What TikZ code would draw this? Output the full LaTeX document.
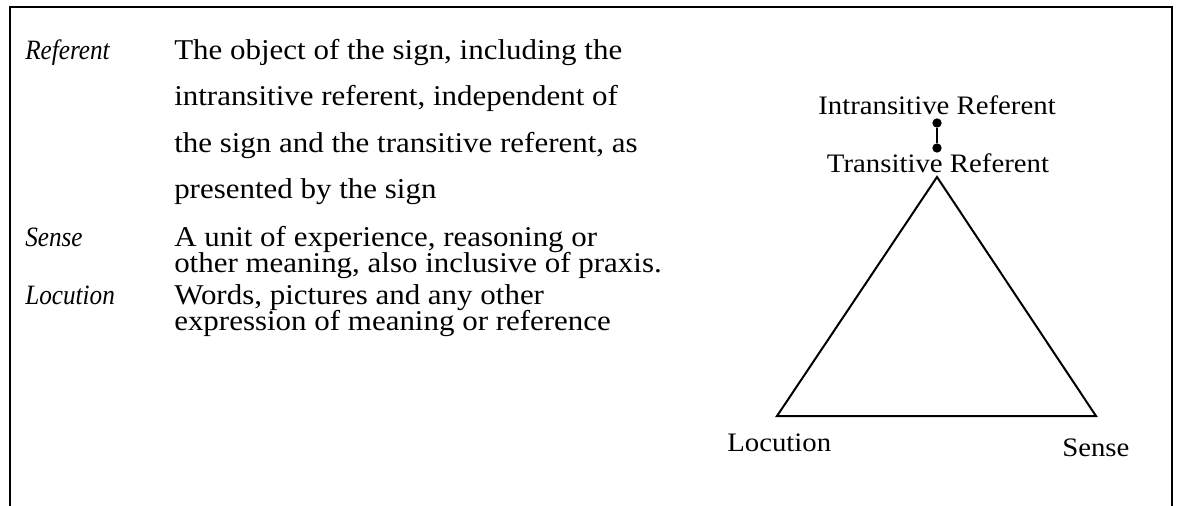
\documentclass[tikz,border=0pt]{standalone}
\usepackage{fontspec}
\setmainfont{Liberation Serif}[FakeStretch=1.08]
% condensed italic for the glossary terms
\newfontfamily\termfont{Liberation Serif}[FakeStretch=0.9]
\begin{document}
\begin{tikzpicture}[x=0.75pt,y=-0.75pt,
  body/.style={anchor=base west, inner sep=0pt, font=\fontsize{21.5}{25}\selectfont},
  term/.style={anchor=base west, inner sep=0pt, font=\termfont\fontsize{21}{24}\selectfont\itshape},
  vlabel/.style={inner sep=0pt, font=\fontsize{20}{24}\selectfont},
  side/.style={line width=1.5pt, line join=miter},
  frame/.style={line width=1.8pt},
  dot/.style={circle, fill=black, inner sep=0pt, minimum size=7pt}]
\useasboundingbox (0,0) rectangle (1180,506);

% open frame: top edge and the two sides
\draw[frame] (10,506) -- (10,7) -- (1172,7) -- (1172,506);

% glossary of the three terms
\node[term] (tref) at (25,60) {Referent};
\node[body] (ref1) at (174,60)  {The object of the sign, including the};
\node[body] (ref2) at (174,106) {intransitive referent, independent of};
\node[body] (ref3) at (174,152) {the sign and the transitive referent, as};
\node[body] (ref4) at (174,198) {presented by the sign};

\node[term] (tsen) at (25,246) {Sense};
\node[body] (sen1) at (174,246) {A unit of experience, reasoning or};
\node[body] (sen2) at (174,272) {other meaning, also inclusive of praxis.};

\node[term] (tloc) at (25,304) {Locution};
\node[body] (loc1) at (174,304) {Words, pictures and any other};
\node[body] (loc2) at (174,330) {expression of meaning or reference};

% semiotic triangle
\coordinate (apex) at (937,177);
\coordinate (vloc) at (777,416);
\coordinate (vsen) at (1096,416);
\draw[side] (apex) -- (vloc) -- (vsen) -- cycle;

\node[vlabel, anchor=base] (intr) at (937,115) {Intransitive Referent};
\node[vlabel, anchor=base] (trans) at (938,172) {Transitive Referent};
\node[vlabel, anchor=base west] (lloc) at (727,451) {Locution};
\node[vlabel, anchor=base west] (lsen) at (1062,456) {Sense};

% link between the two referents
\node[dot] (dtop) at (937,123) {};
\node[dot] (dbot) at (937,148) {};
\draw[line width=1.6pt] (dtop) -- (dbot);
\end{tikzpicture}
\end{document}
